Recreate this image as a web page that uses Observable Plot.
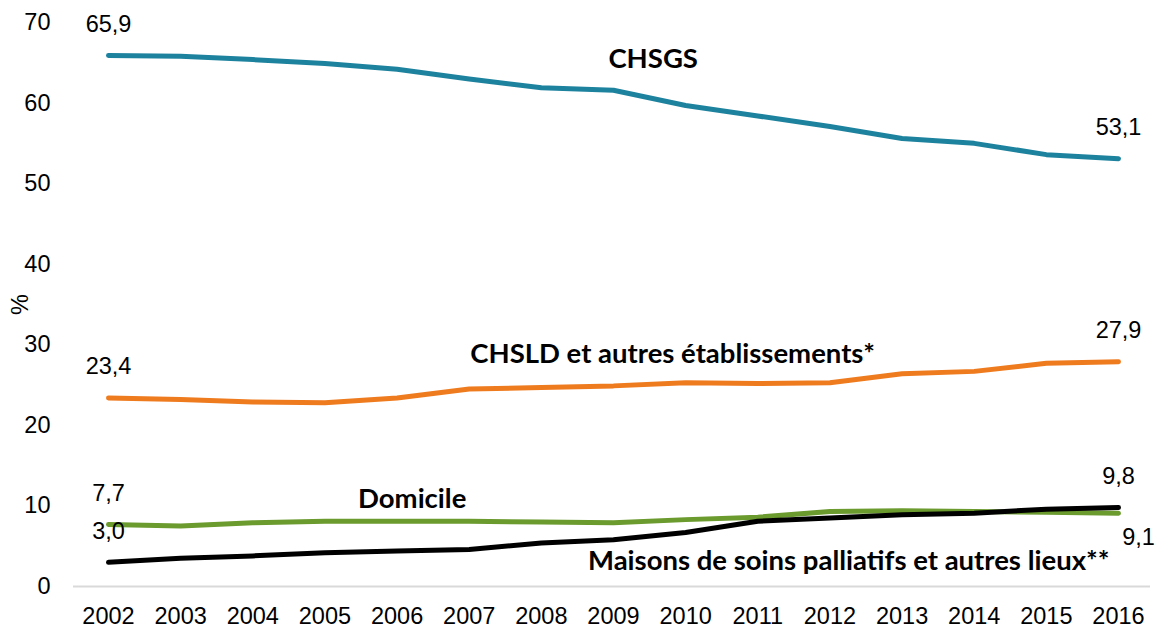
<!DOCTYPE html>
<html><head><meta charset="utf-8">
<script src="https://cdn.jsdelivr.net/npm/d3@7"></script>
<script src="https://cdn.jsdelivr.net/npm/@observablehq/plot@0.6"></script>
<style>body{margin:0;background:#fff;}</style>
</head><body><div id="chart"></div>
<script>
const years = [2002,2003,2004,2005,2006,2007,2008,2009,2010,2011,2012,2013,2014,2015,2016];
const chsgs    = [65.9,65.8,65.4,64.9,64.2,63.0,61.9,61.6,59.7,58.4,57.1,55.6,55.0,53.6,53.1];
const chsld    = [23.4,23.2,22.9,22.8,23.4,24.5,24.7,24.9,25.3,25.2,25.3,26.4,26.7,27.7,27.9];
const domicile = [7.7,7.5,7.9,8.1,8.1,8.1,8.0,7.9,8.3,8.6,9.3,9.4,9.3,9.2,9.1];
const maisons  = [3.0,3.5,3.8,4.2,4.4,4.6,5.4,5.8,6.7,8.1,8.5,8.9,9.1,9.6,9.8];
const seriesKeys = ["CHSGS","CHSLD","Domicile","Maisons"];
const seriesValues = [chsgs, chsld, domicile, maisons];
const seriesColors = ["#1d829e","#ef7b1f","#6b9a2e","#000000"];
const yTicks = [0,10,20,30,40,50,60,70];
const xTicks = years;
const seriesLabels = ["CHSGS","CHSLD et autres établissements*","Domicile","Maisons de soins palliatifs et autres lieux**"];
const labelYears  = [2009.55, 2009.82, 2006.21, 2012.26];
const labelValues = [64.3, 27.7, 9.7, 2.0];

const data = seriesKeys.flatMap((k, i) => years.map((y, j) => ({series: k, year: y, value: seriesValues[i][j]})));
const fmt = v => v.toFixed(1).replace(".", ",");
const ends = seriesKeys.flatMap((k, i) => [
  {series: k, year: years[0], value: seriesValues[i][0], pos: "above"},
  {series: k, year: years[years.length-1], value: seriesValues[i][years.length-1], pos: k === "Domicile" ? "below" : "above"}
]);
const annotations = seriesLabels.map((t, i) => ({text: t, year: labelYears[i], value: labelValues[i]}));

const chart = Plot.plot({
  width: 1155,
  height: 628,
  marginLeft: 73,
  marginRight: 5,
  marginTop: 22,
  marginBottom: 42,
  style: {fontFamily: "'Liberation Sans', Arial, sans-serif", fontSize: "23.5px", color: "#000", background: "#fff"},
  x: {domain: [2002, 2016], range: [108, 1118]},
  y: {domain: [0, 70]},
  color: {domain: seriesKeys, range: seriesColors},
  marks: [
    Plot.ruleY([0], {stroke: "#d9d9d9", strokeWidth: 2}),
    Plot.axisY({ticks: yTicks, tickSize: 0, tickPadding: 23, label: "%", labelAnchor: "center", labelArrow: "none", labelOffset: 62, fontSize: 23.5}),
    Plot.axisX({ticks: xTicks, tickSize: 0, tickPadding: 21, tickFormat: d => String(d), label: null, fontSize: 23.5}),
    Plot.line(data, {x: "year", y: "value", z: "series", stroke: "series", strokeWidth: 5, strokeLinecap: "round", strokeLinejoin: "round"}),
    Plot.text(ends.filter(d => d.pos === "above"), {x: "year", y: "value", text: d => fmt(d.value), dy: -31, fontSize: 23.5, fill: "#000"}),
    Plot.text(ends.filter(d => d.pos === "below"), {x: "year", y: "value", text: d => fmt(d.value), dy: 24, dx: 20, fontSize: 23.5, fill: "#000"}),
    Plot.text(annotations, {x: "year", y: "value", text: "text", lineAnchor: "bottom", fontFamily: "Lato, 'Open Sans', sans-serif", fontWeight: "bold", fontSize: 27.5, fill: "#000"})
  ]
});
document.getElementById("chart").appendChild(chart);
</script>
</body></html>
